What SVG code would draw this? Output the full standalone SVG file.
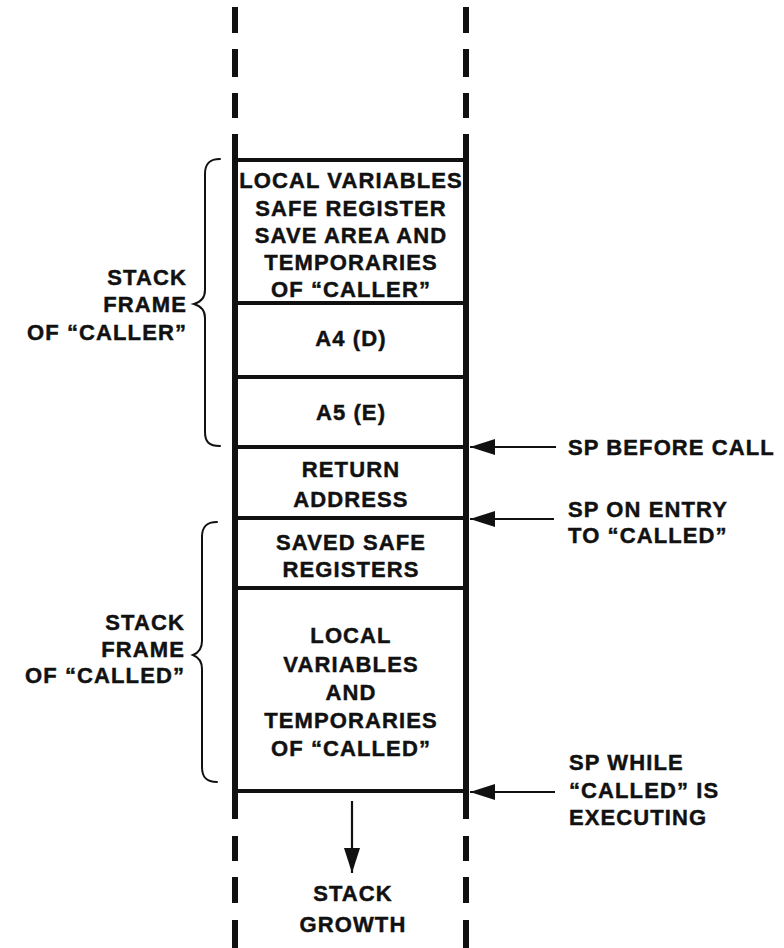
<svg xmlns="http://www.w3.org/2000/svg" width="784" height="948" viewBox="0 0 784 948">
<style>
text{font-family:"Liberation Sans",Arial,sans-serif;font-weight:bold;font-size:22px;letter-spacing:1.1px;fill:#111;stroke:#111;stroke-width:0.45px}
.c{text-anchor:middle}
.e{text-anchor:end}
.wall{stroke:#111;stroke-width:6;fill:none}
.div{stroke:#111;stroke-width:4;fill:none}
.brace{stroke:#111;stroke-width:2;fill:none;stroke-linecap:round}
.arr{stroke:#111;stroke-width:2.2;fill:none}
</style>
<defs>
<marker id="ah" markerUnits="userSpaceOnUse" markerWidth="26" markerHeight="16" refX="25" refY="8" orient="auto">
<path d="M0,0 L25,8 L0,16 Z" fill="#111"/>
</marker>
</defs>
<rect width="784" height="948" fill="#fff"/>
<g id="walls">
<path class="wall" d="M235,7V33M235,49V77M235,93V118M235,134V819M235,836V861M235,877V903M235,920V948"/>
<path class="wall" d="M466,7V33M466,49V77M466,93V118M466,134V819M466,836V861M466,877V903M466,920V948"/>
</g>
<g id="cell-caller-locals">
<line class="div" x1="235" y1="160" x2="466" y2="160"/>
<text class="c" x="351" y="188">LOCAL VARIABLES</text>
<text class="c" x="351" y="215.5">SAFE REGISTER</text>
<text class="c" x="351" y="243">SAVE AREA AND</text>
<text class="c" x="351" y="270">TEMPORARIES</text>
<text class="c" x="351" y="297">OF “CALLER”</text>
</g>
<g id="cell-a4">
<line class="div" x1="235" y1="303" x2="466" y2="303"/>
<text class="c" x="351" y="346">A4 (D)</text>
</g>
<g id="cell-a5">
<line class="div" x1="235" y1="377" x2="466" y2="377"/>
<text class="c" x="351" y="420">A5 (E)</text>
</g>
<g id="cell-return">
<line class="div" x1="235" y1="447" x2="466" y2="447"/>
<text class="c" x="351" y="477">RETURN</text>
<text class="c" x="351" y="507">ADDRESS</text>
</g>
<g id="cell-saved">
<line class="div" x1="235" y1="518" x2="466" y2="518"/>
<text class="c" x="351" y="550">SAVED SAFE</text>
<text class="c" x="351" y="577">REGISTERS</text>
</g>
<g id="cell-called-locals">
<line class="div" x1="235" y1="588" x2="466" y2="588"/>
<text class="c" x="351" y="643">LOCAL</text>
<text class="c" x="351" y="672">VARIABLES</text>
<text class="c" x="351" y="700">AND</text>
<text class="c" x="351" y="728">TEMPORARIES</text>
<text class="c" x="351" y="756">OF “CALLED”</text>
<line class="div" x1="235" y1="791" x2="466" y2="791"/>
</g>
<g id="frame-caller">
<path class="brace" d="M220,159 C209,159 205,164 205,174 L205,290 C205,298 201,302 194,304 C201,306 205,310 205,318 L205,432 C205,442 209,446 220,446"/>
<text class="e" x="187" y="285">STACK</text>
<text class="e" x="187" y="312">FRAME</text>
<text class="e" x="187" y="340">OF “CALLER”</text>
</g>
<g id="frame-called">
<path class="brace" d="M217,522 C206,522 202,527 202,537 L202,641 C202,649 198,653 193,655 C198,657 202,661 202,669 L202,767 C202,777 206,782 217,782"/>
<text class="e" x="185" y="630">STACK</text>
<text class="e" x="185" y="657">FRAME</text>
<text class="e" x="185" y="683">OF “CALLED”</text>
</g>
<g id="label-sp-before">
<text x="568" y="455">SP BEFORE CALL</text>
</g>
<g id="label-sp-entry">
<text x="568" y="517">SP ON ENTRY</text>
<text x="568" y="543">TO “CALLED”</text>
</g>
<g id="label-sp-while">
<text x="569" y="770">SP WHILE</text>
<text x="569" y="798">“CALLED” IS</text>
<text x="569" y="825">EXECUTING</text>
</g>
<g id="label-growth">
<text class="c" x="353" y="901">STACK</text>
<text class="c" x="353" y="932">GROWTH</text>
</g>
<g id="connectors">
<line class="arr" x1="556" y1="447" x2="470" y2="447" marker-end="url(#ah)"/>
<line class="arr" x1="554" y1="519" x2="470" y2="519" marker-end="url(#ah)"/>
<line class="arr" x1="555" y1="792" x2="470" y2="792" marker-end="url(#ah)"/>
<line class="arr" x1="352" y1="801" x2="352" y2="873" marker-end="url(#ah)"/>
</g>
</svg>
